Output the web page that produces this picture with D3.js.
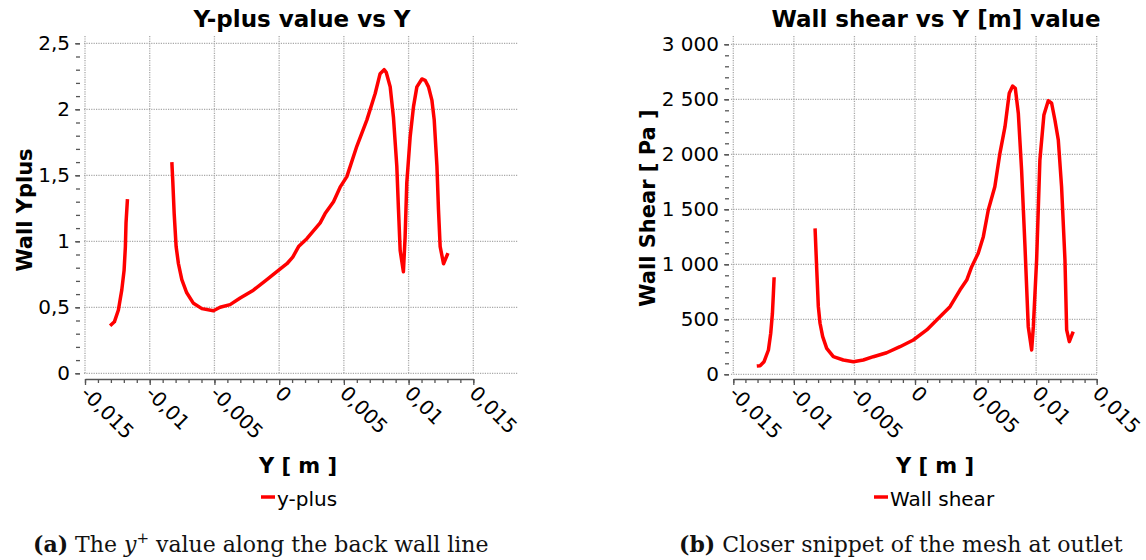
<!DOCTYPE html>
<html>
<head>
<meta charset="utf-8">
<script src="https://cdn.jsdelivr.net/npm/d3@7"></script>
<style>
  body { margin: 0; background: #fff; }
  svg { display: block; }
</style>
</head>
<body>
<script>
// Left panel: y-plus along the back wall. null splits the two wall pieces.
const yplusPos = [-0.01306, -0.01273, -0.01242, -0.01216, -0.01198, -0.01188, -0.01183, -0.01172, null,
  -0.00829, -0.00822, -0.00811, -0.00796, -0.00778, -0.00752, -0.00714, -0.00662, -0.00597, -0.00508,
  -0.00456, -0.00379, -0.00301, -0.00199, -0.00095, -0.00018, 0.0006, 0.00105, 0.0015, 0.00214,
  0.00317, 0.00355, 0.0042, 0.00471, 0.00523, 0.006, 0.00678, 0.00742, 0.0078, 0.00811, 0.00827,
  0.00858, 0.00883, 0.00909, 0.00922, 0.00935, 0.0096, 0.00973, 0.00986, 0.01012, 0.01038, 0.01064,
  0.01103, 0.01128, 0.01154, 0.0118, 0.01198, 0.01219, 0.01231, 0.01244, 0.0127, 0.01304];
const yplusVal = [0.36, 0.39, 0.48, 0.63, 0.78, 0.96, 1.14, 1.32, null,
  1.60, 1.46, 1.21, 0.96, 0.83, 0.71, 0.61, 0.53, 0.49, 0.474,
  0.50, 0.52, 0.57, 0.63, 0.71, 0.77, 0.83, 0.88, 0.96, 1.02,
  1.14, 1.21, 1.30, 1.41, 1.49, 1.72, 1.92, 2.12, 2.27, 2.30, 2.28,
  2.17, 1.94, 1.57, 1.24, 0.93, 0.77, 1.03, 1.44, 1.79, 2.02, 2.17,
  2.23, 2.22, 2.17, 2.07, 1.92, 1.57, 1.24, 0.96, 0.83, 0.91];

// Right panel: wall shear [Pa]
const shearPos = [-0.01306, -0.01279, -0.01246, -0.0121, -0.01191, -0.01177, -0.01169, -0.01163, null,
  -0.00825, -0.00811, -0.00798, -0.00784, -0.00762, -0.00729, -0.00674, -0.00592, -0.00509, -0.00427,
  -0.00344, -0.00234, -0.00124, -0.00014, 0.00097, 0.00179, 0.00289, 0.00371, 0.00427, 0.00468,
  0.00522, 0.00564, 0.00605, 0.00659, 0.00701, 0.00743, 0.00778, 0.00806, 0.00828, 0.00853, 0.0088,
  0.00908, 0.00935, 0.00963, 0.00977, 0.01004, 0.01031, 0.01064, 0.011, 0.01128, 0.01155, 0.01183,
  0.0121, 0.01238, 0.01252, 0.01274, 0.01306];
const shearVal = [75, 78, 115, 221, 373, 555, 736, 882, null,
  1327, 948, 615, 464, 342, 236, 160, 130, 115, 130,
  160, 196, 251, 312, 403, 494, 615, 766, 857, 978,
  1100, 1251, 1494, 1705, 2009, 2251, 2555, 2621, 2600, 2373, 1857,
  1160, 433, 221, 433, 1039, 1948, 2357, 2487, 2464, 2312, 2130,
  1705, 1039, 403, 297, 387];

const xTicks = [-0.015, -0.01, -0.005, 0, 0.005, 0.01, 0.015];
const yplusTicks = [0, 0.5, 1, 1.5, 2, 2.5];
const shearTicks = [0, 500, 1000, 1500, 2000, 2500, 3000];

const locale = d3.formatLocale({ decimal: ",", thousands: "\u00a0", grouping: [3], currency: ["", ""], minus: "-" });
const fmtDec = locale.format("~g");
const fmtThou = locale.format(",");

const svg = d3.select("body").append("svg")
  .attr("width", 1146)
  .attr("height", 560)
  .style("font-family", "'DejaVu Sans', sans-serif");

function drawPanel(p) {
  const x = d3.scaleLinear().domain([-0.015, 0.015]).range(p.xRange);
  const y = d3.scaleLinear().domain([0, p.yMax]).range(p.yRange);
  const g = svg.append("g");

  // dotted grid
  g.append("g").selectAll("line").data(xTicks).join("line")
    .attr("x1", d => x(d)).attr("x2", d => x(d))
    .attr("y1", p.gridTop).attr("y2", y(0));
  g.append("g").selectAll("line").data(p.yTicks).join("line")
    .attr("x1", p.gridLeft).attr("x2", p.gridRight)
    .attr("y1", d => y(d)).attr("y2", d => y(d));
  g.selectAll("g line")
    .attr("stroke", "#a8a8a8")
    .attr("stroke-width", 1.3)
    .attr("stroke-dasharray", "1.2 1.2");

  // y axis, major + minor ticks
  const ya = g.append("g").attr("transform", `translate(${p.axisX},0)`);
  ya.call(d3.axisLeft(y).tickValues(p.yMinor).tickSize(4).tickSizeOuter(0).tickFormat(""));
  ya.append("g").call(d3.axisLeft(y).tickValues(p.yTicks).tickSize(5).tickSizeOuter(0).tickPadding(5).tickFormat(p.fmt));
  ya.selectAll("g > g > path.domain").remove();

  // x axis
  const xa = g.append("g").attr("transform", `translate(0,${p.axisY})`);
  xa.call(d3.axisBottom(x).tickValues(d3.range(-15, 16).map(i => i / 1000)).tickSize(4).tickSizeOuter(0).tickFormat(""));
  const xm = xa.append("g").call(d3.axisBottom(x).tickValues(xTicks).tickSize(6).tickSizeOuter(0).tickFormat(fmtDec));
  xm.select("path.domain").remove();
  xm.selectAll(".tick text")
    .attr("transform", "rotate(45)")
    .attr("text-anchor", "start")
    .attr("x", 7)
    .attr("y", 15)
    .attr("dy", 0);

  g.selectAll(".domain, .tick line").attr("stroke", "#555").attr("stroke-width", 1.3);
  g.selectAll(".tick text").attr("font-size", 20).attr("font-family", "'DejaVu Sans', sans-serif").attr("fill", "#000");

  // series
  const pts = d3.zip(p.pos, p.val);
  g.append("path")
    .datum(pts)
    .attr("fill", "none")
    .attr("stroke", "#ff0000")
    .attr("stroke-width", 3.5)
    .attr("stroke-linejoin", "round")
    .attr("d", d3.line().defined(d => d[1] != null).x(d => x(d[0])).y(d => y(d[1])));

  // titles
  g.append("text")
    .attr("x", p.titleX).attr("y", 27)
    .attr("text-anchor", "middle")
    .attr("font-size", 23).attr("font-weight", "bold")
    .text(p.title);
  g.append("text")
    .attr("x", p.xTitleX).attr("y", 473)
    .attr("text-anchor", "middle")
    .attr("font-size", 21).attr("font-weight", "bold")
    .text("Y [ m ]");
  g.append("text")
    .attr("transform", `translate(${p.yTitleX},${p.yTitleY}) rotate(-90)`)
    .attr("text-anchor", "middle")
    .attr("font-size", 21).attr("font-weight", "bold")
    .text(p.yTitle);

  // legend
  g.append("line")
    .attr("x1", p.legendX).attr("x2", p.legendX + 14)
    .attr("y1", 497).attr("y2", 497)
    .attr("stroke", "#ff0000").attr("stroke-width", 3.5);
  g.append("text")
    .attr("x", p.legendX + 16).attr("y", 506)
    .attr("font-size", 20)
    .text(p.legend);
}

drawPanel({
  pos: yplusPos, val: yplusVal,
  xRange: [85, 473.3], yRange: [373.3, 43.3], yMax: 2.5,
  yTicks: yplusTicks, yMinor: d3.range(0, 26).map(i => i / 10), fmt: fmtDec,
  gridTop: 36, gridLeft: 84, gridRight: 518,
  axisX: 80, axisY: 379,
  title: "Y-plus value vs Y", titleX: 302,
  xTitleX: 298,
  yTitle: "Wall Yplus", yTitleX: 32, yTitleY: 210,
  legend: "y-plus", legendX: 261
});

drawPanel({
  pos: shearPos, val: shearVal,
  xRange: [733.3, 1096.7], yRange: [374.3, 44.3], yMax: 3000,
  yTicks: shearTicks, yMinor: d3.range(0, 31).map(i => i * 100), fmt: fmtThou,
  gridTop: 36, gridLeft: 731, gridRight: 1097,
  axisX: 729, axisY: 379,
  title: "Wall shear vs Y [m] value", titleX: 936,
  xTitleX: 935,
  yTitle: "Wall Shear [ Pa ]", yTitleX: 655, yTitleY: 208,
  legend: "Wall shear", legendX: 874
});

// sub-figure captions
const capFont = "'DejaVu Serif', serif";
function caption(xPos, label, parts) {
  const t = svg.append("text")
    .attr("x", xPos).attr("y", 552)
    .attr("font-family", capFont)
    .attr("font-size", 22)
    .attr("fill", "#111");
  t.append("tspan").attr("font-weight", "bold").text(label);
  parts.forEach(pt => {
    const s = t.append("tspan").text(pt.t);
    if (pt.italic) s.attr("font-style", "italic");
    if (pt.sup) s.attr("font-size", 15).attr("dy", -9);
    if (pt.down) s.attr("dy", 9);
  });
}
caption(33, "(a)", [
  { t: " The " },
  { t: "y", italic: true },
  { t: "+", sup: true },
  { t: " value along the back wall line", down: true }
]);
caption(679, "(b)", [
  { t: " Closer snippet of the mesh at outlet" }
]);
</script>
</body>
</html>
